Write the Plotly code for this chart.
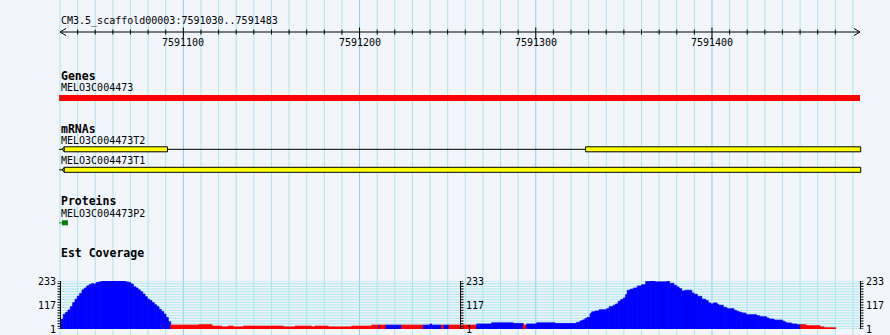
import numpy as np
import plotly.graph_objects as go

# ---------------- data ----------------
region_start = 7591030
region_end = 7591483
region_label = "CM3.5_scaffold00003:7591030..7591483"
ruler_major = [7591100, 7591200, 7591300, 7591400]
grid_step = 10

gene_name = "MELO3C004473"
gene_span = [7591029.5, 7591484.0]

mrna_names = ["MELO3C004473T2", "MELO3C004473T1"]
mrna_tail_start = 7591029.5
mrna_exons = [
    [[7591032.3, 7591091.0], [7591328.3, 7591484.4]],
    [[7591032.3, 7591484.4]],
]

protein_name = "MELO3C004473P2"
protein_tail_start = 7591029.5
protein_span = [7591031.1, 7591034.5]

track_titles = ["Genes", "mRNAs", "Proteins", "Est Coverage"]

# Est coverage: bin edges (bp offset from region start), values, colours (B=blue, R=red)
cov_edges = [
    0.57, 1.87, 3.23, 4.54, 5.85, 7.21, 8.51, 9.82, 11.18, 12.49, 13.79, 15.15, 16.46, 17.76,
    19.12, 20.43, 21.74, 23.10, 24.40, 36.32, 37.63, 38.99, 40.29, 41.60, 42.96, 44.27, 45.57,
    46.93, 48.24, 49.55, 50.90, 52.21, 53.52, 54.88, 56.18, 57.49, 58.85, 60.16, 61.46, 62.82,
    78.88, 86.26, 91.76, 95.51, 98.35, 104.02, 126.72, 133.36, 142.84, 144.71, 152.26, 165.54,
    176.89, 181.03, 181.6, 185.0, 193.92, 206.18, 209.98, 210.94, 216.62, 217.92, 220.76, 236.43,
    244.94, 257.2, 262.9, 264.8, 270.5, 280.9, 293.2,
    295.1, 296.6, 297.9, 299.2, 300.8, 301.7, 303.6, 305.9, 310.2, 311.7, 314.0, 315.3, 316.8,
    318.2, 319.7, 321.0, 321.9, 323.5, 325.4, 327.6, 330.1, 332.4, 335.2, 337.7, 339.0, 344.6,
    345.8, 348.4, 350.0, 351.3, 352.8, 354.7, 358.5, 359.8, 361.7, 364.2, 366.4, 367.9, 369.3,
    370.8, 372.7, 373.6, 376.4, 378.4, 382.5, 384.0, 385.3, 386.9, 389.3, 395.4, 397.2, 401.0,
    402.4, 405.2, 410.1, 411.4, 412.4, 415.2, 418.1, 420.3, 423.3, 431.3, 433.6, 440.2,
]
cov_values = [
    48, 72, 82, 93, 109, 128, 145, 160, 173, 190, 199, 209, 215, 220, 218, 225, 228, 230, 233,
    230, 228, 225, 218, 205, 199, 190, 181, 170, 157, 145, 138, 128, 118, 109, 96, 85, 73, 57, 36,
    20, 22, 15, 11, 15, 11, 15, 11, 15, 11, 15, 11, 15, 20, 20, 20, 20, 20, 20, 25,
    20, 20, 20, 20, 25, 31, 28, 20, 25, 31, 28,
    33, 40, 45, 52, 57, 75, 84, 88, 94, 99, 109, 116, 122, 135, 143, 151, 167, 188, 193, 199,
    209, 215, 231, 233, 228, 229, 233, 222, 212, 204, 196, 185, 188, 175, 169, 159, 145, 138,
    127, 122, 127, 122, 116, 106, 99, 91, 86, 82, 78, 70, 65, 60, 54, 49, 44, 38, 33, 30, 25,
    22, 22, 17, 11, 7,
]
cov_colors = (
    "BBBBBBBBBBBBBBBBBBBBBBBBBBBBBBBBBBBBBBB"
    + "RRRRRRRRRRRRRR" + "BRBRBBBRBRBBBRBBB"
    + "BBBBBBBBBBBBBBBBBBBBBBBBBBBBBBBBBBBBBBBBBBBBBBBBBBBBBBBBBBBB" + "RRRR"
)
cov_min, cov_max = 1, 233
cov_tick_labels = [233, 117, 1]

assert len(cov_edges) == len(cov_values) + 1 == len(cov_colors) + 1

# ---------------- layout constants ----------------
W, H = 890, 335
TL, TR = 60, 860
BG = "#F2F5FA"
GRID = "#A8E6EE"
GRID_MAJOR = "#86CDEB"
MONO = "DejaVu Sans Mono"
BLUE, RED, YELLOW, GREEN = "#0000FF", "#FF0000", "#FFFF00", "#008000"
COV_TOP, COV_BOT = 281, 329


def px2bp(px):
    return region_start + (px - TL) * (region_end + 1 - region_start) / (TR - TL)


shapes = []
annotations = []


def add_line(x0, y0, x1, y1, color="black", width=1, yref="y", layer="above"):
    shapes.append(dict(type="line", xref="x", yref=yref, x0=x0, y0=y0, x1=x1, y1=y1,
                       line=dict(color=color, width=width), layer=layer))


def add_rect(x0, y0, x1, y1, fill, outline=None, layer="above"):
    shapes.append(dict(type="rect", xref="x", yref="y", x0=x0, y0=y0, x1=x1, y1=y1,
                       fillcolor=fill,
                       line=dict(color=outline or fill, width=1 if outline else 0),
                       layer=layer))


def add_text(x, y, text, bold=False, anchor="left", size=None):
    annotations.append(dict(
        x=x, y=y, xref="x", yref="y", text=f"<b>{text}</b>" if bold else text,
        showarrow=False, xanchor=anchor, yanchor="middle", borderpad=0,
        font=dict(family=MONO, size=size or (11.5 if bold else 10), color="black")))


# vertical grid lines
for p in range(region_start, region_end + 1, grid_step):
    add_line(p, 0, p, H, color=GRID_MAJOR if p % 100 == 0 else GRID, layer="below")

# coverage horizontal grid
cov_levels = np.linspace(cov_min, cov_max, 19)
for lv in cov_levels:
    add_line(px2bp(TL), lv, px2bp(TR), lv, color=GRID, yref="y2", layer="below")

# ruler
add_text(px2bp(TL), 21, region_label)
add_line(px2bp(TL), 32, px2bp(TR), 32)
shapes.append(dict(type="path", xref="x", yref="y", layer="above",
                   path=f"M {px2bp(TL + 6)},28.5 L {px2bp(TL)},32 L {px2bp(TL + 6)},35.5",
                   line=dict(color="black", width=1)))
shapes.append(dict(type="path", xref="x", yref="y", layer="above",
                   path=f"M {px2bp(TR - 6)},28.5 L {px2bp(TR)},32 L {px2bp(TR - 6)},35.5",
                   line=dict(color="black", width=1)))
for p in range(region_start + grid_step, region_end - grid_step + 1, grid_step):
    if p in ruler_major:
        add_line(p, 27.5, p, 38.5)
    else:
        add_line(p, 29.5, p, 34.5)
for p in ruler_major:
    add_text(p, 42, str(p), anchor="center")

# Genes
add_text(px2bp(TL), 76, track_titles[0], bold=True)
add_text(px2bp(TL), 87.5, gene_name)
add_rect(gene_span[0], 95, gene_span[1], 101, RED)

# mRNAs
add_text(px2bp(TL), 128.5, track_titles[1], bold=True)
row_y = [149.3, 169.8]
name_y = [140, 160.7]
for name, exons, yc, ny in zip(mrna_names, mrna_exons, row_y, name_y):
    add_text(px2bp(TL), ny, name)
    first = exons[0][0]
    add_line(mrna_tail_start, yc, exons[-1][0], yc)
    for (s, e) in exons:
        add_rect(s, yc - 2.5, e, yc + 2.5, YELLOW, outline="black")
    shapes.append(dict(type="path", xref="x", yref="y", layer="above",
                       path=f"M {px2bp(TL + 2)},{yc} L {first},{yc - 2} L {first},{yc + 2} Z",
                       fillcolor=YELLOW, line=dict(color="black", width=1)))

# Proteins
add_text(px2bp(TL), 201, track_titles[2], bold=True)
add_text(px2bp(TL), 213.3, protein_name)
add_line(protein_tail_start, 222.8, protein_span[0], 222.8, color=GREEN)
add_rect(protein_span[0], 220.3, protein_span[1], 225.3, GREEN)

# Est coverage
add_text(px2bp(TL), 253, track_titles[3], bold=True)
edges = np.array(cov_edges) + region_start
centers = (edges[:-1] + edges[1:]) / 2
widths = edges[1:] - edges[:-1]
colors = [BLUE if c == "B" else RED for c in cov_colors]

axes_px = [(TL + 0.5, -1), ((TL + TR) / 2 + 0.5, 1), (TR + 0.5, 1)]
for ax_px, side in axes_px:
    add_line(px2bp(ax_px), cov_min, px2bp(ax_px), cov_max, yref="y2")
    for i, lv in enumerate(cov_levels):
        end = px2bp(ax_px + side * 3)
        if i in (0, len(cov_levels) - 1):
            add_line(px2bp(ax_px - side * 1), lv, end, lv, yref="y2")
        else:
            add_line(px2bp(ax_px), lv, end, lv, yref="y2")
    for t in cov_tick_labels:
        ypx = COV_BOT - (t - cov_min) * (COV_BOT - COV_TOP) / (cov_max - cov_min)
        if side < 0:
            add_text(px2bp(ax_px - 4), ypx, str(t), anchor="right")
        else:
            add_text(px2bp(ax_px + 4), ypx, str(t), anchor="left")

fig = go.Figure()
fig.add_trace(go.Bar(
    x=centers, y=np.array(cov_values) - cov_min, base=cov_min, width=widths,
    marker=dict(color=colors, line=dict(width=0.8, color=colors)), xaxis="x", yaxis="y2",
    hoverinfo="skip"))

fig.update_layout(
    width=W, height=H, autosize=False,
    margin=dict(l=0, r=0, t=0, b=0, pad=0),
    paper_bgcolor=BG, plot_bgcolor="rgba(0,0,0,0)",
    showlegend=False,
    xaxis=dict(range=[px2bp(0), px2bp(W)], visible=False, fixedrange=True),
    yaxis=dict(range=[H, 0], domain=[0, 1], visible=False, fixedrange=True),
    yaxis2=dict(range=[cov_min, cov_max], domain=[(H - COV_BOT) / H, (H - COV_TOP) / H],
                anchor="x", visible=False, fixedrange=True),
    shapes=shapes, annotations=annotations,
)

fig.write_html("out.html", config={"displayModeBar": False})
